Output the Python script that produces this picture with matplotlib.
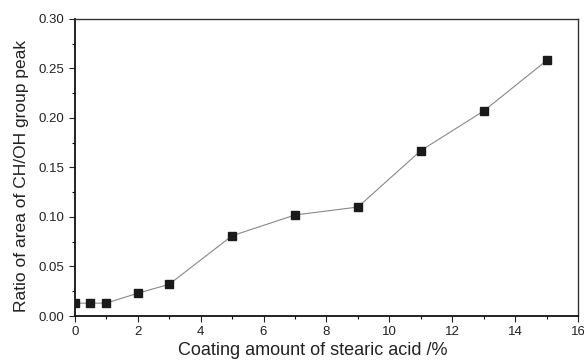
import matplotlib
matplotlib.use("Agg")
import matplotlib.pyplot as plt
from matplotlib.ticker import MultipleLocator, FormatStrFormatter

plt.rcParams['font.family'] = ['Liberation Sans', 'DejaVu Sans']

# coating amount (%) and ratio of CH/OH peak area
coating = [0, 0.5, 1, 2, 3, 5, 7, 9, 11, 13, 15]
ratio = [0.013, 0.013, 0.013, 0.023, 0.032, 0.081, 0.102, 0.110, 0.167, 0.207, 0.258]

fig = plt.figure(figsize=(5.84, 3.62), dpi=100)
ax = fig.add_axes([0.128, 0.127, 0.862, 0.821])

ax.plot(coating, ratio, color='#888888', lw=0.8, marker='s', ms=6,
        mfc='#1a1a1a', mec='#1a1a1a', zorder=3)

ax.set_xlim(0, 16)
ax.set_ylim(0, 0.30)
ax.xaxis.set_major_locator(MultipleLocator(2))
ax.xaxis.set_minor_locator(MultipleLocator(1))
ax.yaxis.set_major_locator(MultipleLocator(0.05))
ax.yaxis.set_minor_locator(MultipleLocator(0.025))
ax.yaxis.set_major_formatter(FormatStrFormatter('%.2f'))

ax.tick_params(which='major', direction='out', length=4, width=0.8, labelsize=9.5,
               colors='#222222', top=False, right=False)
ax.tick_params(which='minor', direction='out', length=2.5, width=0.8, top=False, right=False)
ax.tick_params(axis='x', pad=3)
for s in ['left', 'bottom']:
    ax.spines[s].set_linewidth(1.3)
    ax.spines[s].set_color('#111111')
for s in ['top', 'right']:
    ax.spines[s].set_linewidth(1.0)
    ax.spines[s].set_color('#333333')

ax.set_xlabel('Coating amount of stearic acid /%', fontsize=13, color='#222222', labelpad=3)
ax.set_ylabel('Ratio of area of CH/OH group peak', fontsize=12.5, color='#222222', labelpad=7)
ax.xaxis.label.set_x(0.472)
ax.yaxis.label.set_y(0.47)

fig.savefig('out.png', dpi=100)
